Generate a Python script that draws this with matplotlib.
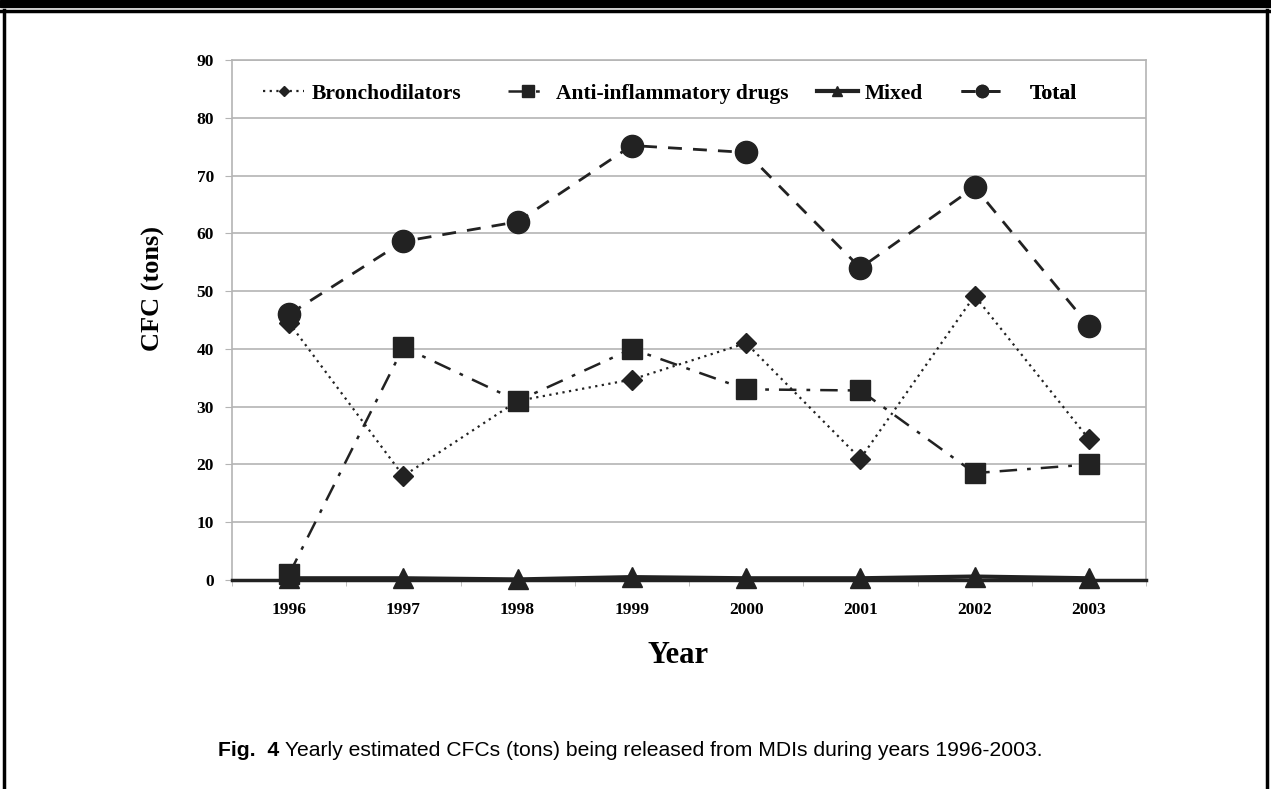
import matplotlib.pyplot as plt
from matplotlib.lines import Line2D
from matplotlib.patches import Rectangle

# data
years = ["1996", "1997", "1998", "1999", "2000", "2001", "2002", "2003"]
bronchodilators = [44.5, 18.0, 31.0, 34.7, 41.0, 21.0, 49.2, 24.4]
anti_inflammatory = [1.0, 40.3, 31.0, 40.0, 33.0, 32.8, 18.5, 20.0]
mixed = [0.3, 0.3, 0.1, 0.5, 0.3, 0.3, 0.6, 0.3]
total = [46.0, 58.6, 62.0, 75.2, 74.0, 54.0, 68.0, 44.0]

y_ticks = [0, 10, 20, 30, 40, 50, 60, 70, 80, 90]

serif = ["Liberation Serif", "DejaVu Serif"]
dark = "#222222"
grid = "#b4b4b4"

fig = plt.figure(figsize=(12.71, 7.89), dpi=100)
ax = fig.add_axes([232 / 1271, 1 - 580 / 789, 914 / 1271, 520 / 789])

x = list(range(len(years)))
ln_b, = ax.plot(x, bronchodilators, color=dark, linestyle=(0, (1, 2)), linewidth=1.6,
                marker="D", markersize=10, zorder=4, clip_on=False)
ln_a, = ax.plot(x, anti_inflammatory, color=dark, linestyle=(0, (7, 4, 1.5, 4)), linewidth=1.8,
                marker="s", markersize=15, zorder=4, clip_on=False)
ln_m, = ax.plot(x, mixed, color=dark, linestyle="-", linewidth=3,
                marker="^", markersize=14, zorder=5, clip_on=False)
ln_t, = ax.plot(x, total, color=dark, linestyle=(0, (5, 4)), linewidth=2,
                marker="o", markersize=16, zorder=4, clip_on=False)

ax.set_xlim(-0.5, len(years) - 0.5)
ax.set_ylim(0, 90)
ax.set_yticks(y_ticks)
ax.set_yticklabels([str(v) for v in y_ticks], fontfamily=serif, fontweight="bold", fontsize=12.5)
ax.set_xticks(x)
ax.set_xticklabels(years, fontfamily=serif, fontweight="bold", fontsize=12.5)
ax.tick_params(axis="x", length=0, pad=16)
ax.set_xticks([i + 0.5 for i in range(-1, len(years))], minor=True)
ax.tick_params(axis="x", which="minor", length=4, color=grid, direction="out")
ax.tick_params(axis="y", length=5, color=grid, direction="out", pad=8)

ax.yaxis.grid(True, color=grid, linewidth=1.2)
ax.set_axisbelow(True)
for side in ["left", "right", "top"]:
    ax.spines[side].set_color(grid)
    ax.spines[side].set_linewidth(1.2)
ax.spines["bottom"].set_color(dark)
ax.spines["bottom"].set_linewidth(2.5)

ax.set_ylabel("CFC (tons)", fontfamily=serif, fontweight="bold", fontsize=19)
ax.yaxis.set_label_coords(-0.073, 0.56)
ax.set_xlabel("Year", fontfamily=serif, fontweight="bold", fontsize=22)
ax.xaxis.set_label_coords(0.488, -0.118)

# legend entries placed one by one, like the original
entries = [(ln_b, "Bronchodilators", 0.034, 0.35), (ln_a, "Anti-inflammatory drugs", 0.302, 0.35),
           (ln_m, "Mixed", 0.640, 0.3), (ln_t, "Total", 0.798, 1.25)]
for handle, label, xpos, pad in entries:
    leg = ax.legend([handle], [label], loc="center left", bbox_to_anchor=(xpos, 0.935),
                    frameon=False, handlelength=1.9, handletextpad=pad, borderpad=0,
                    borderaxespad=0, markerscale=0.55,
                    prop={"family": serif, "weight": "bold", "size": 15.5})
    ax.add_artist(leg)

# page frame lines
fig.patches.append(Rectangle((0, 1 - 7 / 789), 1, 7 / 789, transform=fig.transFigure,
                             color="black", zorder=10))
fig.add_artist(Line2D([0, 1], [1 - 10.5 / 789] * 2, transform=fig.transFigure, color="black", linewidth=2.5))
fig.add_artist(Line2D([4 / 1271] * 2, [0, 1 - 10 / 789], transform=fig.transFigure, color="black", linewidth=2.5))
fig.add_artist(Line2D([1267 / 1271] * 2, [0, 1 - 10 / 789], transform=fig.transFigure, color="black", linewidth=2.5))

fig.text(218 / 1271, 1 - 750 / 789, "Fig.  4", fontfamily="Liberation Sans", fontweight="bold",
         fontsize=15.2, va="center", ha="left")
fig.text(285 / 1271, 1 - 750 / 789, "Yearly estimated CFCs (tons) being released from MDIs during years 1996-2003.",
         fontfamily="Liberation Sans", fontsize=15.2, va="center", ha="left")

fig.savefig("out.png", dpi=100)
